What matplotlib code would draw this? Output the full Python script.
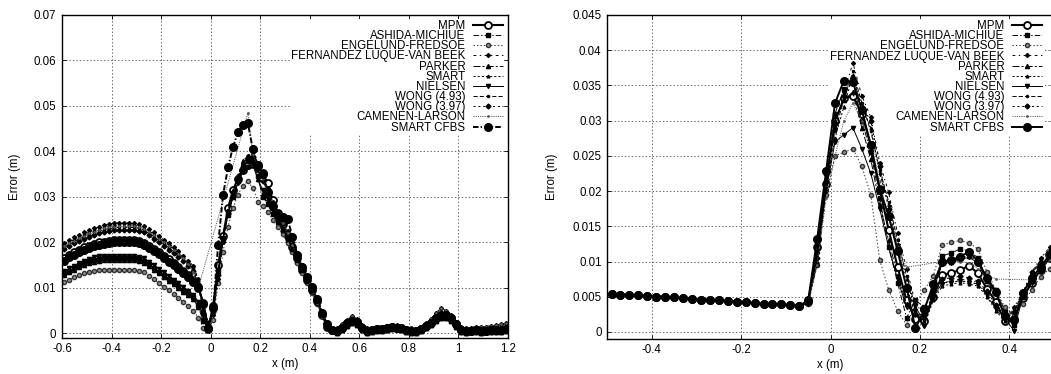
import matplotlib.pyplot as plt
import numpy as np

plt.rcParams['font.family'] = ['Liberation Sans', 'DejaVu Sans']
plt.rcParams['lines.scale_dashes'] = False

names = ['MPM', 'ASHIDA-MICHIUE', 'ENGELUND-FREDSOE', 'FERNANDEZ LUQUE-VAN BEEK',
         'PARKER', 'SMART', 'NIELSEN', 'WONG (4.93)', 'WONG (3.97)',
         'CAMENEN-LARSON', 'SMART CFBS']

# ---------------- left panel ----------------
xl_head = np.round(np.arange(-0.59, 0.50, 0.02), 2)   # -0.59 .. 0.49
xl_tail = np.round(np.arange(0.51, 1.20, 0.02), 2)    # 0.51 .. 1.19
# camenen-larson skips the points between -0.05 and 0.15
xl_cam = np.concatenate([xl_head[:28], xl_head[37:], xl_tail])

tail_a = [0.0005, 0.0012, 0.0022, 0.0028, 0.0025, 0.0012, 0.0006, 0.0008, 0.0010, 0.0009,
          0.0012, 0.0014, 0.0013, 0.0011, 0.0008, 0.0006, 0.0005, 0.0009, 0.0016, 0.0024,
          0.0033, 0.0040, 0.0041, 0.0033, 0.0020, 0.0008, 0.0005, 0.0006, 0.0007, 0.0005,
          0.0006, 0.0008, 0.0007, 0.0008, 0.0009]
tail_b = [0.0012, 0.0020, 0.0030, 0.0038, 0.0032, 0.0018, 0.0012, 0.0013, 0.0015, 0.0014,
          0.0017, 0.0019, 0.0018, 0.0016, 0.0013, 0.0011, 0.0010, 0.0015, 0.0023, 0.0032,
          0.0045, 0.0055, 0.0050, 0.0040, 0.0026, 0.0015, 0.0012, 0.0013, 0.0015, 0.0014,
          0.0015, 0.0017, 0.0018, 0.0020, 0.0022]
tail_c = [0.0002, 0.0008, 0.0017, 0.0022, 0.0019, 0.0007, 0.0002, 0.0004, 0.0006, 0.0005,
          0.0008, 0.0010, 0.0009, 0.0007, 0.0004, 0.0002, 0.0002, 0.0005, 0.0011, 0.0019,
          0.0027, 0.0034, 0.0035, 0.0028, 0.0015, 0.0004, 0.0002, 0.0003, 0.0004, 0.0002,
          0.0003, 0.0004, 0.0003, 0.0004, 0.0005]

mpm_l = [0.0165, 0.0172, 0.0178, 0.0184, 0.0189, 0.0193, 0.0197, 0.0200, 0.0202, 0.0204,
         0.0205, 0.0205, 0.0205, 0.0205, 0.0205, 0.0203, 0.0199, 0.0193, 0.0186, 0.0179,
         0.0171, 0.0163, 0.0155, 0.0147, 0.0138, 0.0128, 0.0117, 0.0100, 0.0068, 0.0010,
         0.0060, 0.0150, 0.0215, 0.0275, 0.0315, 0.0340, 0.0360, 0.0370, 0.0373, 0.0367,
         0.0352, 0.0330, 0.0293, 0.0264, 0.0240, 0.0215, 0.0190, 0.0165, 0.0140, 0.0118,
         0.0096, 0.0072, 0.0040, 0.0015, 0.0008]
ashida_l = [0.0132, 0.0138, 0.0144, 0.0150, 0.0155, 0.0159, 0.0162, 0.0164, 0.0165, 0.0165,
            0.0165, 0.0165, 0.0165, 0.0165, 0.0165, 0.0163, 0.0159, 0.0152, 0.0144, 0.0136,
            0.0128, 0.0120, 0.0112, 0.0104, 0.0096, 0.0088, 0.0079, 0.0062, 0.0030, 0.0008,
            0.0058, 0.0138, 0.0208, 0.0262, 0.0302, 0.0335, 0.0365, 0.0378, 0.0385, 0.0345,
            0.0300, 0.0285, 0.0262, 0.0245, 0.0226, 0.0205, 0.0183, 0.0160, 0.0138, 0.0115,
            0.0092, 0.0068, 0.0040, 0.0015, 0.0006]
engelund_l = [0.0112, 0.0118, 0.0123, 0.0128, 0.0132, 0.0135, 0.0138, 0.0140, 0.0140, 0.0140,
              0.0140, 0.0140, 0.0140, 0.0140, 0.0140, 0.0138, 0.0134, 0.0127, 0.0119, 0.0111,
              0.0103, 0.0095, 0.0087, 0.0078, 0.0069, 0.0060, 0.0050, 0.0035, 0.0012, 0.0008,
              0.0030, 0.0110, 0.0180, 0.0235, 0.0275, 0.0305, 0.0325, 0.0334, 0.0320, 0.0290,
              0.0280, 0.0268, 0.0250, 0.0235, 0.0218, 0.0198, 0.0178, 0.0155, 0.0132, 0.0110,
              0.0088, 0.0065, 0.0038, 0.0014, 0.0005]
fernandez_l = [0.0198, 0.0205, 0.0211, 0.0217, 0.0222, 0.0227, 0.0231, 0.0235, 0.0238, 0.0240,
               0.0242, 0.0243, 0.0243, 0.0243, 0.0243, 0.0241, 0.0237, 0.0230, 0.0222, 0.0214,
               0.0206, 0.0198, 0.0190, 0.0181, 0.0171, 0.0160, 0.0148, 0.0120, 0.0050, 0.0020,
               0.0040, 0.0120, 0.0200, 0.0265, 0.0310, 0.0345, 0.0370, 0.0390, 0.0398, 0.0370,
               0.0345, 0.0320, 0.0290, 0.0268, 0.0248, 0.0225, 0.0200, 0.0175, 0.0150, 0.0125,
               0.0100, 0.0075, 0.0050, 0.0025, 0.0012]
parker_l = [0.0128, 0.0134, 0.0140, 0.0146, 0.0151, 0.0155, 0.0158, 0.0160, 0.0161, 0.0161,
            0.0161, 0.0161, 0.0161, 0.0161, 0.0161, 0.0159, 0.0155, 0.0148, 0.0140, 0.0132,
            0.0124, 0.0116, 0.0108, 0.0100, 0.0092, 0.0084, 0.0075, 0.0058, 0.0028, 0.0010,
            0.0055, 0.0135, 0.0205, 0.0260, 0.0300, 0.0338, 0.0380, 0.0390, 0.0378, 0.0340,
            0.0305, 0.0288, 0.0265, 0.0248, 0.0228, 0.0208, 0.0185, 0.0162, 0.0140, 0.0116,
            0.0093, 0.0069, 0.0042, 0.0016, 0.0007]
smart_l = [0.0195, 0.0201, 0.0207, 0.0213, 0.0218, 0.0223, 0.0227, 0.0230, 0.0233, 0.0235,
           0.0237, 0.0238, 0.0238, 0.0238, 0.0238, 0.0236, 0.0232, 0.0226, 0.0218, 0.0210,
           0.0202, 0.0194, 0.0186, 0.0177, 0.0167, 0.0157, 0.0145, 0.0118, 0.0060, 0.0025,
           0.0045, 0.0125, 0.0205, 0.0270, 0.0315, 0.0348, 0.0372, 0.0388, 0.0395, 0.0365,
           0.0340, 0.0318, 0.0288, 0.0265, 0.0245, 0.0222, 0.0198, 0.0172, 0.0148, 0.0122,
           0.0098, 0.0072, 0.0048, 0.0022, 0.0010]
nielsen_l = [0.0137, 0.0143, 0.0149, 0.0155, 0.0160, 0.0164, 0.0168, 0.0170, 0.0170, 0.0170,
             0.0170, 0.0170, 0.0170, 0.0170, 0.0170, 0.0168, 0.0165, 0.0158, 0.0150, 0.0142,
             0.0134, 0.0126, 0.0118, 0.0110, 0.0102, 0.0094, 0.0085, 0.0070, 0.0040, 0.0010,
             0.0060, 0.0140, 0.0210, 0.0265, 0.0300, 0.0330, 0.0355, 0.0365, 0.0370, 0.0340,
             0.0315, 0.0295, 0.0270, 0.0250, 0.0230, 0.0210, 0.0188, 0.0165, 0.0142, 0.0118,
             0.0095, 0.0070, 0.0040, 0.0015, 0.0007]
wong493_l = [0.0190, 0.0196, 0.0202, 0.0208, 0.0213, 0.0218, 0.0222, 0.0225, 0.0228, 0.0230,
             0.0232, 0.0233, 0.0233, 0.0233, 0.0233, 0.0231, 0.0227, 0.0221, 0.0213, 0.0205,
             0.0197, 0.0189, 0.0181, 0.0172, 0.0163, 0.0153, 0.0141, 0.0112, 0.0055, 0.0018,
             0.0050, 0.0130, 0.0210, 0.0272, 0.0312, 0.0342, 0.0365, 0.0382, 0.0390, 0.0362,
             0.0338, 0.0315, 0.0285, 0.0262, 0.0242, 0.0220, 0.0196, 0.0170, 0.0146, 0.0120,
             0.0096, 0.0070, 0.0045, 0.0020, 0.0009]
wong397_l = [0.0186, 0.0192, 0.0198, 0.0203, 0.0208, 0.0213, 0.0217, 0.0220, 0.0223, 0.0225,
             0.0227, 0.0228, 0.0228, 0.0228, 0.0228, 0.0226, 0.0222, 0.0216, 0.0208, 0.0200,
             0.0192, 0.0184, 0.0176, 0.0168, 0.0159, 0.0149, 0.0138, 0.0108, 0.0045, 0.0015,
             0.0048, 0.0128, 0.0208, 0.0270, 0.0310, 0.0340, 0.0362, 0.0380, 0.0388, 0.0360,
             0.0336, 0.0312, 0.0282, 0.0260, 0.0240, 0.0218, 0.0194, 0.0168, 0.0144, 0.0118,
             0.0094, 0.0068, 0.0043, 0.0018, 0.0008]
camenen_l = [0.0192, 0.0198, 0.0204, 0.0210, 0.0215, 0.0220, 0.0224, 0.0228, 0.0231, 0.0233,
             0.0235, 0.0236, 0.0236, 0.0236, 0.0236, 0.0234, 0.0230, 0.0224, 0.0216, 0.0208,
             0.0200, 0.0192, 0.0184, 0.0175, 0.0165, 0.0152, 0.0135, 0.0100,
             0.0485, 0.0395, 0.0365, 0.0340, 0.0315, 0.0285, 0.0262, 0.0242, 0.0220, 0.0195,
             0.0170, 0.0145, 0.0120, 0.0095, 0.0068, 0.0044, 0.0020, 0.0010]
cfbs_l = [0.0160, 0.0167, 0.0173, 0.0179, 0.0184, 0.0188, 0.0192, 0.0195, 0.0197, 0.0199,
          0.0200, 0.0200, 0.0200, 0.0200, 0.0200, 0.0198, 0.0194, 0.0188, 0.0181, 0.0174,
          0.0166, 0.0158, 0.0150, 0.0142, 0.0133, 0.0124, 0.0114, 0.0103, 0.0065, 0.0012,
          0.0055, 0.0195, 0.0305, 0.0365, 0.0410, 0.0442, 0.0458, 0.0462, 0.0405, 0.0370,
          0.0350, 0.0310, 0.0280, 0.0260, 0.0255, 0.0252, 0.0213, 0.0172, 0.0145, 0.0125,
          0.0102, 0.0075, 0.0045, 0.0020, 0.0008]

# ---------------- right panel ----------------
xr_flat = np.round(np.arange(-0.49, -0.06, 0.02), 2)  # -0.49 .. -0.07
xr_main = np.round(np.arange(-0.05, 0.50, 0.02), 2)   # -0.05 .. 0.49
xr_cam = [-0.05, -0.03, -0.01, 0.01, 0.03, 0.05, 0.07, 0.09, 0.11, 0.13, 0.15, 0.17,
          0.25, 0.27, 0.29, 0.31, 0.33, 0.35, 0.37, 0.45, 0.47, 0.49]

flat_r = [0.0054, 0.0053, 0.0053, 0.0052, 0.0051, 0.0050, 0.0050, 0.0049, 0.0048, 0.0047,
          0.0046, 0.0046, 0.0045, 0.0044, 0.0043, 0.0042, 0.0041, 0.0040, 0.0040, 0.0039,
          0.0038, 0.0037]

mpm_r = [0.0042, 0.0120, 0.0210, 0.0299, 0.0332, 0.0335, 0.0310, 0.0265, 0.0203, 0.0145,
         0.0092, 0.0045, 0.0018, 0.0016, 0.0050, 0.0081, 0.0084, 0.0088, 0.0094, 0.0083,
         0.0061, 0.0043, 0.0015, 0.0019, 0.0048, 0.0070, 0.0088, 0.0105]
ashida_r = [0.0042, 0.0125, 0.0225, 0.0310, 0.0345, 0.0355, 0.0300, 0.0255, 0.0190, 0.0120,
            0.0070, 0.0020, 0.0045, 0.0035, 0.0060, 0.0108, 0.0112, 0.0118, 0.0115, 0.0105,
            0.0075, 0.0060, 0.0030, 0.0010, 0.0050, 0.0075, 0.0090, 0.0108]
engelund_r = [0.0040, 0.0095, 0.0195, 0.0250, 0.0255, 0.0260, 0.0235, 0.0195, 0.0102, 0.0060,
              0.0030, 0.0010, 0.0040, 0.0060, 0.0080, 0.0124, 0.0127, 0.0130, 0.0126, 0.0118,
              0.0085, 0.0060, 0.0035, 0.0025, 0.0040, 0.0060, 0.0078, 0.0090]
fernandez_r = [0.0044, 0.0095, 0.0200, 0.0290, 0.0340, 0.0382, 0.0335, 0.0305, 0.0240, 0.0198,
               0.0140, 0.0090, 0.0040, 0.0025, 0.0050, 0.0070, 0.0072, 0.0075, 0.0073, 0.0070,
               0.0055, 0.0035, 0.0020, 0.0035, 0.0055, 0.0085, 0.0105, 0.0120]
parker_r = [0.0042, 0.0115, 0.0215, 0.0300, 0.0330, 0.0340, 0.0290, 0.0245, 0.0180, 0.0130,
            0.0080, 0.0040, 0.0025, 0.0025, 0.0055, 0.0100, 0.0100, 0.0105, 0.0108, 0.0100,
            0.0072, 0.0055, 0.0025, 0.0015, 0.0050, 0.0072, 0.0088, 0.0105]
smart_r = [0.0044, 0.0100, 0.0205, 0.0275, 0.0320, 0.0365, 0.0320, 0.0290, 0.0225, 0.0180,
           0.0125, 0.0075, 0.0030, 0.0010, 0.0045, 0.0065, 0.0068, 0.0070, 0.0068, 0.0065,
           0.0050, 0.0030, 0.0015, 0.0030, 0.0050, 0.0080, 0.0100, 0.0115]
nielsen_r = [0.0040, 0.0110, 0.0200, 0.0270, 0.0280, 0.0290, 0.0260, 0.0225, 0.0175, 0.0120,
             0.0075, 0.0035, 0.0030, 0.0008, 0.0060, 0.0098, 0.0098, 0.0103, 0.0106, 0.0098,
             0.0072, 0.0055, 0.0020, 0.0002, 0.0050, 0.0070, 0.0088, 0.0105]
wong493_r = [0.0043, 0.0098, 0.0210, 0.0285, 0.0330, 0.0370, 0.0325, 0.0285, 0.0230, 0.0185,
             0.0130, 0.0080, 0.0035, 0.0015, 0.0048, 0.0070, 0.0070, 0.0073, 0.0070, 0.0068,
             0.0052, 0.0032, 0.0018, 0.0032, 0.0052, 0.0082, 0.0102, 0.0118]
wong397_r = [0.0043, 0.0105, 0.0215, 0.0295, 0.0335, 0.0360, 0.0320, 0.0300, 0.0235, 0.0175,
             0.0120, 0.0065, 0.0025, 0.0020, 0.0052, 0.0075, 0.0077, 0.0079, 0.0077, 0.0072,
             0.0058, 0.0038, 0.0022, 0.0028, 0.0055, 0.0085, 0.0100, 0.0112]
camenen_r = [0.0044, 0.0095, 0.0190, 0.0250, 0.0300, 0.0325, 0.0300, 0.0270, 0.0215, 0.0160,
             0.0120, 0.0092, 0.0100, 0.0098, 0.0100, 0.0098, 0.0090, 0.0080, 0.0075, 0.0074,
             0.0090, 0.0102]
cfbs_r = [0.0045, 0.0132, 0.0228, 0.0325, 0.0357, 0.0355, 0.0315, 0.0265, 0.0202, 0.0165,
          0.0115, 0.0063, 0.0005, 0.0032, 0.0068, 0.0100, 0.0102, 0.0107, 0.0114, 0.0100,
          0.0077, 0.0057, 0.0022, 0.0017, 0.0055, 0.0077, 0.0092, 0.0110]

xticks_l = [-0.6, -0.4, -0.2, 0, 0.2, 0.4, 0.6, 0.8, 1, 1.2]
yticks_l = [0, 0.01, 0.02, 0.03, 0.04, 0.05, 0.06, 0.07]
xticks_r = [-0.4, -0.2, 0, 0.2, 0.4]
yticks_r = [0, 0.005, 0.01, 0.015, 0.02, 0.025, 0.03, 0.035, 0.04, 0.045]

xh = np.concatenate
left_series = [
    (xh([xl_head, xl_tail]), mpm_l + tail_a),
    (xh([xl_head, xl_tail]), ashida_l + tail_c),
    (xh([xl_head, xl_tail]), engelund_l + tail_c),
    (xh([xl_head, xl_tail]), fernandez_l + tail_b),
    (xh([xl_head, xl_tail]), parker_l + tail_c),
    (xh([xl_head, xl_tail]), smart_l + tail_b),
    (xh([xl_head, xl_tail]), nielsen_l + tail_a),
    (xh([xl_head, xl_tail]), wong493_l + tail_b),
    (xh([xl_head, xl_tail]), wong397_l + tail_a),
    (xl_cam, camenen_l + tail_b),
    (xh([xl_head, xl_tail]), cfbs_l + tail_a),
]
right_series = [
    (xh([xr_flat, xr_main]), flat_r + mpm_r),
    (xh([xr_flat, xr_main]), flat_r + ashida_r),
    (xh([xr_flat, xr_main]), flat_r + engelund_r),
    (xh([xr_flat, xr_main]), flat_r + fernandez_r),
    (xh([xr_flat, xr_main]), flat_r + parker_r),
    (xh([xr_flat, xr_main]), flat_r + smart_r),
    (xh([xr_flat, xr_main]), flat_r + nielsen_r),
    (xh([xr_flat, xr_main]), flat_r + wong493_r),
    (xh([xr_flat, xr_main]), flat_r + wong397_r),
    (xh([xr_flat, xr_cam]), flat_r + camenen_r),
    (xh([xr_flat, xr_main]), flat_r + cfbs_r),
]

dashdot = (0, (4, 1.5, 1, 1.5))
styles = [
    dict(ls='-', lw=1.5, marker='o', ms=5, mfc='white', mew=1.3),
    dict(ls=dashdot, marker='s', ms=2.3),
    dict(ls=(0, (1, 1.5)), marker='o', ms=3, mfc='0.55', color='0.2'),
    dict(ls=(0, (2, 2.5, 1, 2.5)), marker='D', ms=2),
    dict(ls=(0, (5, 1.5, 1.5, 1.5)), marker='^', ms=3),
    dict(ls=(0, (1.5, 1.5)), marker='^', ms=2),
    dict(ls='-', marker='v', ms=3),
    dict(ls=(0, (3, 1.5)), marker='.', ms=3),
    dict(ls=(0, (1.5, 2)), marker='D', ms=2.5),
    dict(ls=(0, (0.8, 0.8)), marker='.', ms=2, color='0.35'),
    dict(ls=dashdot, lw=1.4, marker='o', ms=5.5),
]

FS = 8.3


def panel(ax, series, cfbs_ls, xlim, ylim, xt, yt, anchor):
    for name, (xs, ys), st in zip(names, series, styles):
        kw = dict(color='black', lw=0.7)
        kw.update(st)
        if name == 'SMART CFBS':
            kw['ls'] = cfbs_ls
        ax.plot(xs, ys, label=name, **kw)
    ax.set_xlim(*xlim)
    ax.set_ylim(*ylim)
    ax.set_xticks(xt)
    ax.set_xticklabels(['%g' % v for v in xt])
    ax.set_yticks(yt)
    ax.set_yticklabels(['%g' % v for v in yt])
    ax.tick_params(direction='in', top=True, right=True, length=3, width=0.6,
                   labelsize=FS)
    ax.tick_params(axis='x', pad=3.5)
    ax.tick_params(axis='y', pad=4)
    ax.grid(True, ls=(0, (1, 1.5)), color='0.3', lw=0.6)
    ax.set_axisbelow(True)
    for s in ax.spines.values():
        s.set_linewidth(1.0)
    ax.set_xlabel('x (m)', fontsize=FS)
    ax.set_ylabel('Error (m)', fontsize=FS)
    leg = ax.legend(loc='upper right', bbox_to_anchor=anchor, markerfirst=False,
                    fontsize=FS, labelspacing=-0.16, handlelength=2.6,
                    handletextpad=0.65, borderpad=0.1, borderaxespad=0,
                    frameon=True, fancybox=False, framealpha=1,
                    edgecolor='none', facecolor='white')
    leg.set_zorder(1.5)
    return ax


fig = plt.figure(figsize=(10.51, 3.74), dpi=100)
ax1 = fig.add_axes([0.0590, 0.0963, 0.4244, 0.8636])
ax2 = fig.add_axes([0.5776, 0.0936, 0.4253, 0.8663])

panel(ax1, left_series, dashdot, (-0.6, 1.2), (-0.001, 0.07), xticks_l, yticks_l,
      (0.991, 0.988))
panel(ax2, right_series, '-', (-0.5, 0.5), (-0.001, 0.045), xticks_r, yticks_r,
      (0.975, 0.988))
ax1.yaxis.set_label_coords(-0.092, 0.5)
ax1.xaxis.set_label_coords(0.5, -0.062)
ax2.yaxis.set_label_coords(-0.11, 0.5)
ax2.xaxis.set_label_coords(0.5, -0.062)

plt.savefig('out.png', dpi=100)
